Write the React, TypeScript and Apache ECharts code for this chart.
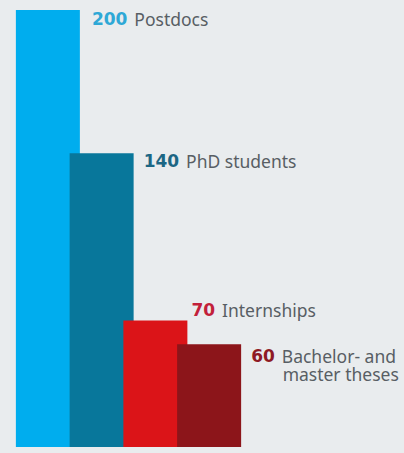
import React, { useEffect, useRef } from "react";
import * as echarts from "echarts";

const categories = ["Postdocs", "PhD students", "Internships", "Bachelor- and"];
const secondLines = ["", "", "", "master theses"];
const values = [200, 140, 70, 60];
const barColors = ["#00adee", "#08779b", "#db1418", "#8c151a"];
const numberColors = ["#2ea8d6", "#1c6684", "#c2203a", "#8e1a24"];
const labelOffsets = [
  [12, 0],
  [10, -1],
  [4, -19],
  [10, 3],
];

export default function App() {
  const ref = useRef<HTMLDivElement>(null);
  useEffect(() => {
    const chart = echarts.init(ref.current!, null, { renderer: "svg" });
    const font = "'Noto Sans', sans-serif";
    const numFont = "'DejaVu Sans', sans-serif";
    chart.setOption({
      animation: false,
      backgroundColor: "#e9ecee",
      grid: { left: 21, right: 168, top: 10, bottom: 6 },
      xAxis: {
        type: "category",
        data: categories,
        show: false,
      },
      yAxis: { type: "value", min: 17, max: 200, startValue: 17, show: false },
      series: [
        {
          type: "bar",
          barWidth: 64,
          clip: false,
          data: values.map((v, i) => ({
            value: v,
            itemStyle: { color: barColors[i] },
            label: {
              show: true,
              position: ["100%", 0],
              align: "left",
              verticalAlign: "top",
              offset: labelOffsets[i],
              formatter:
                `{num${i}|${v}}{txt|${categories[i]}}` +
                (secondLines[i] ? `\n{txt2|${secondLines[i]}}` : ""),
              rich: {
                [`num${i}`]: {
                  color: numberColors[i],
                  fontWeight: "bold",
                  fontSize: 17,
                  fontFamily: numFont,
                  lineHeight: 18,
                },
                txt: {
                  color: "#585e64",
                  fontSize: 17.5,
                  fontFamily: font,
                  lineHeight: 18,
                  padding: [0, 0, 0, 7],
                },
                txt2: {
                  color: "#585e64",
                  fontSize: 17.5,
                  fontFamily: font,
                  lineHeight: 18,
                  padding: [0, 0, 0, 31.5],
                },
              },
            },
          })),
        },
      ],
    });
    return () => chart.dispose();
  }, []);
  return (
    <div
      ref={ref}
      style={{ position: "fixed", left: 0, top: 0, width: 404, height: 453 }}
    />
  );
}
